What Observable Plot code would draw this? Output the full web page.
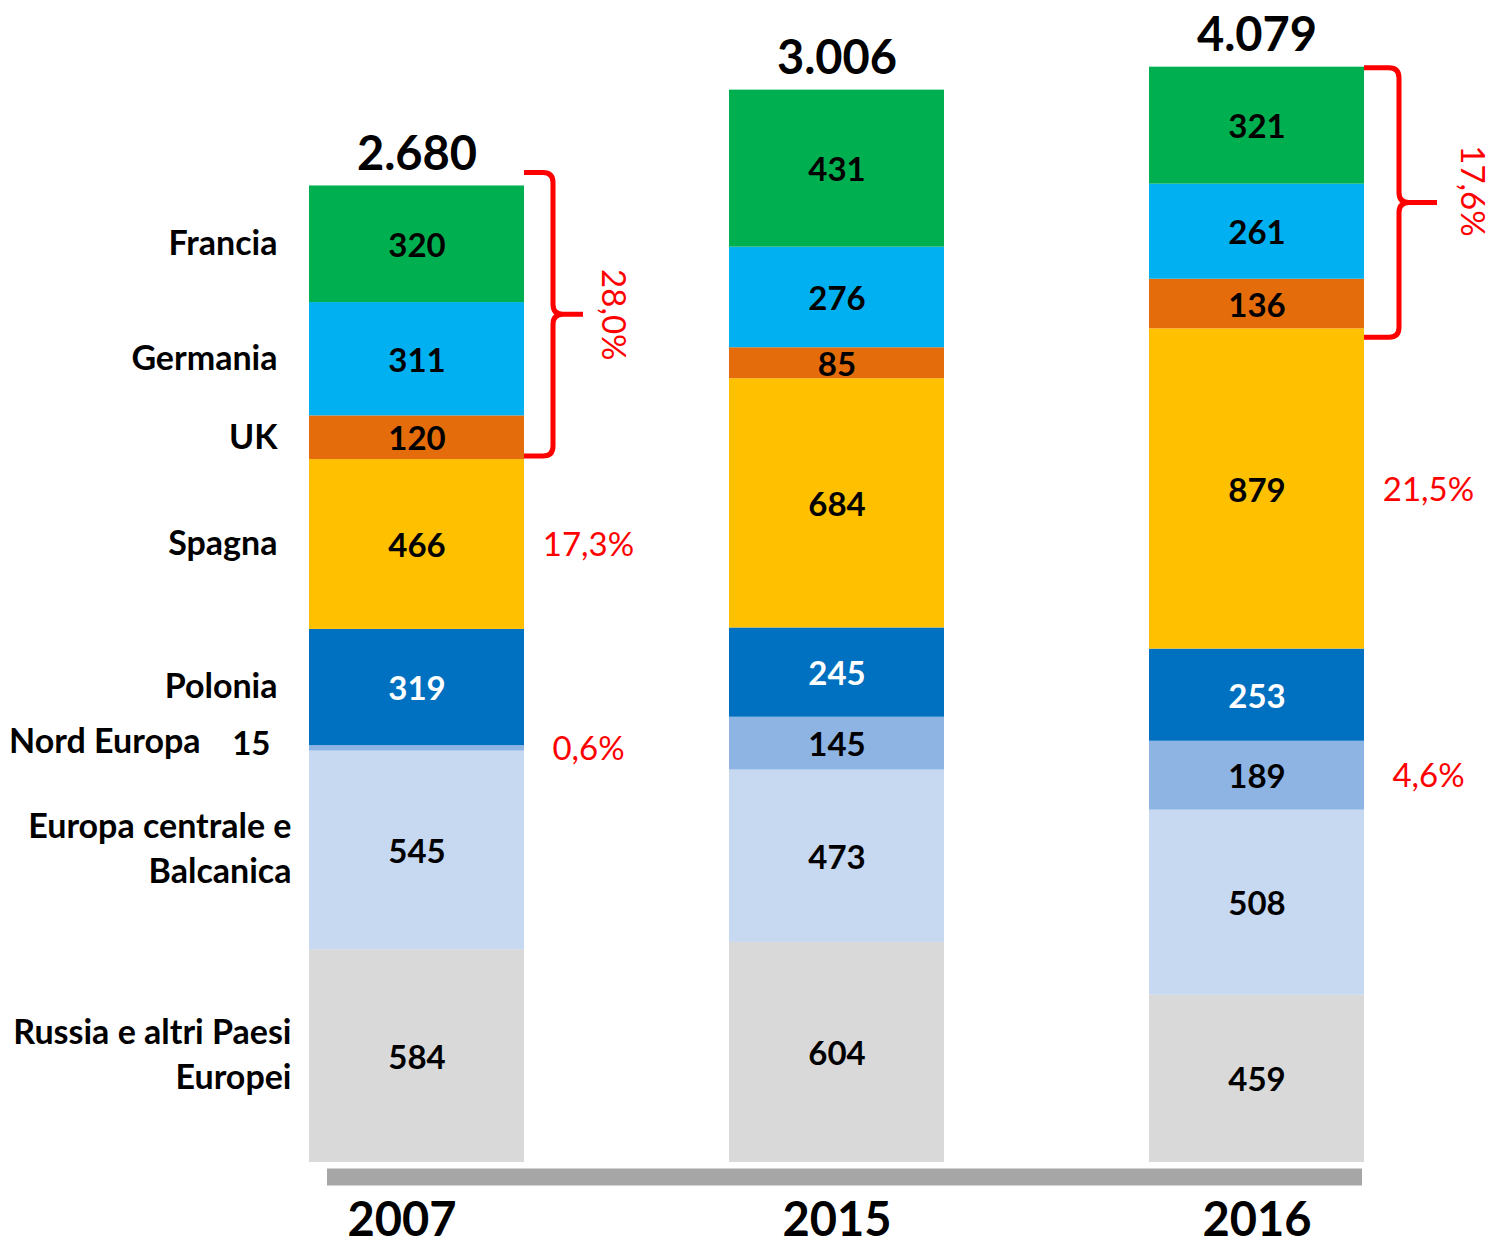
<!DOCTYPE html>
<html>
<head>
<meta charset="utf-8">
<script src="https://cdn.jsdelivr.net/npm/d3@7"></script>
<script src="https://cdn.jsdelivr.net/npm/@observablehq/plot@0.6"></script>
<style>
  html, body { margin: 0; padding: 0; background: #ffffff; }
  svg { display: block; }
</style>
</head>
<body>
<div id="chart"></div>
<script>
// ---- data ----
const years = ["2007", "2015", "2016"];
const categories = ["Russia e altri Paesi Europei", "Europa centrale e Balcanica", "Nord Europa", "Polonia", "Spagna", "UK", "Germania", "Francia"];
const categoryLabels = ["Russia e altri Paesi\nEuropei", "Europa centrale e\nBalcanica", "Nord Europa", "Polonia", "Spagna", "UK", "Germania", "Francia"];
const values2007 = [584, 545, 15, 319, 466, 120, 311, 320];
const values2015 = [604, 473, 145, 245, 684, 85, 276, 431];
const values2016 = [459, 508, 189, 253, 879, 136, 261, 321];
const totalLabels = ["2.680", "3.006", "4.079"];
const colors = ["#d9d9d9", "#c6d9f1", "#8eb4e3", "#0070c0", "#ffc000", "#e46c0a", "#00b0f0", "#00b050"];
const shareYears = ["2007", "2007", "2016", "2016"];
const shareCategories = ["Spagna", "Nord Europa", "Spagna", "Nord Europa"];
const shareLabels = ["17,3%", "0,6%", "21,5%", "4,6%"];
const braceYears = ["2007", "2016"];
const braceFrom = ["UK", "UK"];
const braceTo = ["Francia", "Francia"];
const braceLabels = ["28,0%", "17,6%"];

// ---- tables built from the arrays ----
const seriesByYear = [values2007, values2015, values2016];
const rows = [];
years.forEach((yr, j) => {
  categories.forEach((c, i) => rows.push({year: yr, category: c, label: categoryLabels[i], value: seriesByYear[j][i]}));
});
function stackRange(yr, cat) {
  let lo = 0;
  for (const r of rows.filter(r => r.year === yr)) {
    if (r.category === cat) return [lo, lo + r.value];
    lo += r.value;
  }
  return [lo, lo];
}
const yearSum = yr => d3.sum(rows.filter(r => r.year === yr), r => r.value);
const rows2007 = rows.filter(r => r.year === "2007");
const mid = (yr, cat) => { const [a, b] = stackRange(yr, cat); return (a + b) / 2; };
const shares = shareYears.map((yr, i) => ({year: yr, category: shareCategories[i], text: shareLabels[i]}));
const braces = braceYears.map((yr, i) => ({year: yr, lo: stackRange(yr, braceFrom[i])[0], hi: stackRange(yr, braceTo[i])[1], text: braceLabels[i]}));

// ---- styling (pixels) ----
const W = 1498, H = 1247;
const FONT = "Lato, 'Open Sans', sans-serif";
const braceStyle = {
  "2007": {arm: 29, tip: 59, top: -13, bottom: -3, text: 196},
  "2016": {arm: 35, tip: 73, top: 1, bottom: 9, text: 215}
};

function braceRender(index, scales) {
  const g = d3.create("svg:g");
  const xs = scales.x;
  let bw = xs.bandwidth;
  if (typeof bw === "function") bw = bw();
  if (!(bw > 0)) bw = (xs(years[1]) - xs(years[0])) * (1 - 0.488);
  for (const b of braces) {
    const st = braceStyle[b.year];
    const x0 = xs(b.year) + bw;
    const xa = x0 + st.arm, xt = x0 + st.tip;
    const yt = scales.y(b.hi) + st.top;
    const yb = scales.y(b.lo) + st.bottom;
    const ym = (yt + yb) / 2;
    const r = 10;
    const p = `M${x0},${yt} H${xa - r} Q${xa},${yt} ${xa},${yt + r} V${ym - r} Q${xa},${ym} ${xa + r},${ym} H${xt} ` +
              `M${xa + r},${ym} Q${xa},${ym} ${xa},${ym + r} V${yb - r} Q${xa},${yb} ${xa - r},${yb} H${x0}`;
    g.append("path").attr("d", p).attr("fill", "none").attr("stroke", "#ff0000")
      .attr("stroke-width", 5).attr("stroke-linejoin", "round");
  }
  return g.node();
}

const yearText = {frameAnchor: "bottom", lineAnchor: "middle", dy: 58, text: d => d,
  fill: "#000000", fontSize: 47, fontWeight: 700, fontFamily: FONT};

const chart = Plot.plot({
  width: W,
  height: H,
  marginLeft: 309,
  marginRight: 133,
  marginTop: 0,
  marginBottom: 85,
  style: {fontFamily: FONT, background: "#ffffff"},
  x: {domain: years, paddingInner: 0.488, paddingOuter: 0, axis: null},
  y: {domain: [0, 3189], axis: null},
  color: {domain: categories, range: colors},
  marks: [
    Plot.barY(rows, {x: "year", y: "value", fill: "category"}),
    Plot.ruleY([0], {stroke: "#a6a6a6", strokeWidth: 17, dy: 14.5, insetLeft: 18, insetRight: 3}),
    // values inside bars
    Plot.text(rows, Plot.stackY({
      x: "year", y: "value", z: "category",
      text: d => d.value < 50 ? "" : String(d.value),
      fill: d => d.category === "Polonia" ? "#ffffff" : "#000000",
      dy: 2, fontSize: 33, fontWeight: 700, fontFamily: FONT
    })),
    // small value outside (2007 Nord Europa)
    Plot.text(rows2007.filter(d => d.value < 50), {
      x: "year", y: d => mid(d.year, d.category), text: d => String(d.value),
      textAnchor: "end", dx: -146.5, dy: -4, fill: "#000000", fontSize: 33, fontWeight: 700, fontFamily: FONT
    }),
    // category labels (left)
    Plot.text(rows2007.filter(d => !d.label.includes("\n") && d.value >= 50), {
      x: "year", y: d => mid(d.year, d.category), text: "label",
      textAnchor: "end", dx: -139.5, fill: "#000000", fontSize: 34, fontWeight: 700, fontFamily: FONT
    }),
    Plot.text(rows2007.filter(d => d.label.includes("\n")), {
      x: "year", y: d => mid(d.year, d.category), text: "label",
      textAnchor: "end", dx: -125.5, dy: -4, lineHeight: 1.33, fill: "#000000", fontSize: 34, fontWeight: 700, fontFamily: FONT
    }),
    Plot.text(rows2007.filter(d => d.value < 50), {
      x: "year", y: d => mid(d.year, d.category), text: "label",
      textAnchor: "end", dx: -216.5, dy: -6, fill: "#000000", fontSize: 34, fontWeight: 700, fontFamily: FONT
    }),
    // totals
    Plot.text(years, {
      x: d => d, y: d => yearSum(d), text: (d, i) => totalLabels[i],
      dy: -31, fill: "#000000", fontSize: 47, fontWeight: 700, fontFamily: FONT
    }),
    // year labels
    Plot.text(years.slice(0, 1), {x: d => d, ...yearText, dx: -15}),
    Plot.text(years.slice(1), {x: d => d, ...yearText}),
    // share annotations
    Plot.text(shares, {
      x: "year", y: d => mid(d.year, d.category), text: "text",
      dx: 171.5, dy: 1, fill: "#ff0000", fontSize: 33, fontFamily: FONT
    }),
    // braces
    braceRender,
    Plot.text(braces.filter(b => b.year === "2007"), {
      x: "year", y: d => (d.lo + d.hi) / 2, text: "text", rotate: 90,
      dx: braceStyle["2007"].text, dy: -8, fill: "#ff0000", fontSize: 33, fontFamily: FONT
    }),
    Plot.text(braces.filter(b => b.year === "2016"), {
      x: "year", y: d => (d.lo + d.hi) / 2, text: "text", rotate: 90,
      dx: braceStyle["2016"].text, dy: -7, fill: "#ff0000", fontSize: 33, fontFamily: FONT
    })
  ]
});
document.getElementById("chart").appendChild(chart);
</script>
</body>
</html>
